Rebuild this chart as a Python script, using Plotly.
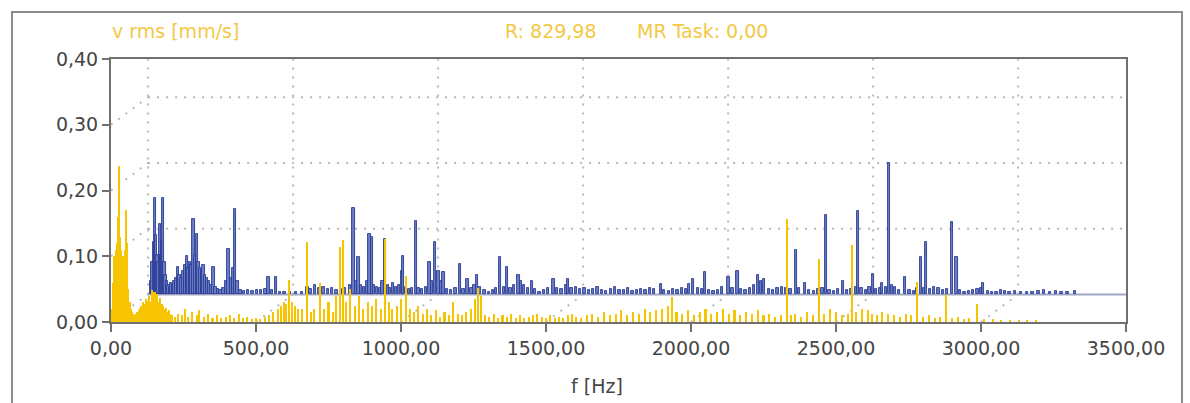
import plotly.graph_objects as go

# ---------------- data ----------------
# front spectrum (yellow): frequency [Hz], v rms [mm/s]
front_f = [4, 8, 12, 16, 20, 24, 28, 32, 36, 40, 44, 48, 52, 56, 60, 64, 68, 72, 76, 80, 85, 90,
           95, 100, 105, 110, 115, 120, 125, 130, 135, 140, 145, 150, 155, 160, 165, 170, 175, 180, 185, 190, 195, 200, 205, 210,
           220, 230, 245, 255, 265, 280, 295, 305, 320, 335, 350, 365, 380, 395, 410, 425, 440, 455, 470, 485, 500, 515, 530,
           545, 560, 575, 585, 595, 605, 615, 625, 635, 645,
           660, 675, 690, 700, 720, 735, 750, 765, 775, 790, 800, 812, 825, 840, 855, 870, 885, 900, 915, 930, 945, 958, 970,
           985, 1000, 1017, 1030, 1045, 1060, 1075, 1090, 1105, 1120, 1135, 1150, 1165, 1180, 1195, 1210, 1225, 1240, 1255,
           1266, 1275, 1290, 1305, 1320, 1335, 1350, 1365, 1380, 1395, 1410, 1425, 1440, 1455, 1470, 1485, 1500, 1515, 1530,
           1545, 1560, 1575, 1590, 1605, 1620, 1640, 1660, 1680, 1700, 1720, 1740, 1760, 1780, 1800, 1820, 1840, 1860, 1880,
           1900, 1920, 1936, 1950, 1970, 1990, 2010, 2030, 2050, 2070, 2090, 2110, 2130, 2150, 2170, 2190, 2210, 2230, 2250,
           2270, 2290, 2310, 2332, 2345, 2360, 2380, 2400, 2420, 2442, 2460, 2480, 2500, 2520, 2540, 2554, 2570, 2590, 2610,
           2625, 2640, 2660, 2680, 2700, 2720, 2740, 2760, 2780, 2800, 2820, 2840, 2860, 2879, 2900, 2920, 2940, 2960, 2987,
           3010, 3040, 3070, 3100, 3130, 3160, 3190]
front_v = [0.02, 0.06, 0.10, 0.11, 0.12, 0.16, 0.238, 0.13, 0.11, 0.10, 0.09, 0.11, 0.17, 0.12, 0.05, 0.03, 0.02, 0.015, 0.012, 0.01, 0.012, 0.015,
           0.018, 0.022, 0.025, 0.03, 0.028, 0.035, 0.032, 0.04, 0.03, 0.048, 0.038, 0.045, 0.035, 0.042, 0.03, 0.036, 0.028, 0.025, 0.02, 0.022, 0.015, 0.018, 0.012, 0.01,
           0.008, 0.012, 0.01, 0.02, 0.008, 0.015, 0.01, 0.018, 0.008, 0.012, 0.006, 0.01, 0.006, 0.008, 0.01, 0.006, 0.012, 0.006, 0.008, 0.005, 0.006, 0.004, 0.008,
           0.01, 0.015, 0.02, 0.025, 0.03, 0.028, 0.064, 0.03, 0.025, 0.02,
           0.02, 0.122, 0.015, 0.02, 0.059, 0.02, 0.03, 0.015, 0.04, 0.114, 0.124, 0.03, 0.05, 0.025, 0.04, 0.02, 0.03, 0.025, 0.035, 0.02, 0.127, 0.03, 0.02,
           0.025, 0.035, 0.07, 0.02, 0.015, 0.025, 0.012, 0.02, 0.01, 0.018, 0.008, 0.015, 0.01, 0.03, 0.012, 0.01, 0.015, 0.02, 0.035,
           0.051, 0.04, 0.01, 0.008, 0.012, 0.006, 0.01, 0.008, 0.012, 0.006, 0.01, 0.006, 0.008, 0.01, 0.012, 0.008, 0.006, 0.01, 0.006,
           0.008, 0.006, 0.01, 0.012, 0.008, 0.006, 0.01, 0.012, 0.008, 0.015, 0.01, 0.012, 0.018, 0.01, 0.015, 0.012, 0.02, 0.015, 0.018,
           0.02, 0.025, 0.038, 0.015, 0.012, 0.018, 0.01, 0.015, 0.02, 0.012, 0.015, 0.02, 0.012, 0.018, 0.01, 0.015, 0.012, 0.018, 0.01,
           0.012, 0.008, 0.01, 0.157, 0.01, 0.012, 0.008, 0.015, 0.01, 0.096, 0.012, 0.02, 0.015, 0.01, 0.012, 0.117, 0.015, 0.02, 0.018,
           0.012, 0.01, 0.015, 0.012, 0.01, 0.008, 0.012, 0.01, 0.061, 0.008, 0.01, 0.006, 0.008, 0.041, 0.006, 0.008, 0.005, 0.006, 0.028,
           0.004, 0.004, 0.003, 0.003, 0.003, 0.003, 0.003]

# back spectrum (blue): frequency [Hz], v rms [mm/s]
back_f = [10, 15, 20, 24, 28, 32, 36, 40, 44, 48, 52, 56, 60, 65, 70, 75, 80, 85, 90, 95, 102, 108, 115, 120, 127, 133,
          138, 144, 150, 156, 162, 168, 174, 180, 186, 191, 197, 203, 210, 218, 225, 232, 240, 250, 260, 270, 277, 285,
          292, 300, 308, 318, 330, 345, 360, 375, 390, 405, 415, 428, 440, 455, 470, 490, 510, 530, 550, 560, 575, 590,
          605, 620, 635, 650, 665, 680, 695, 708, 717, 725, 735, 745, 755, 763, 771, 780, 790, 800, 808, 817, 826, 835,
          845, 855, 865, 875, 880, 890, 900, 910, 923, 932, 945, 958, 970, 980, 990, 1001, 1010, 1018, 1030, 1045, 1060,
          1076, 1088, 1101, 1115, 1125, 1133, 1145, 1160, 1175, 1190, 1200, 1214, 1226, 1237, 1250, 1262, 1277, 1285,
          1295, 1310, 1323, 1335, 1350, 1365, 1380, 1398, 1410, 1425, 1440, 1449, 1460, 1475, 1490, 1505, 1520, 1535,
          1550, 1565, 1580, 1595, 1610, 1625, 1640, 1655, 1670, 1685, 1700, 1715, 1730, 1745, 1768, 1780, 1795, 1810,
          1825, 1840, 1855, 1866, 1880, 1895, 1910, 1921, 1935, 1950, 1965, 1980, 2001, 2015, 2032, 2045, 2060, 2075,
          2090, 2104, 2114, 2124, 2140, 2155, 2170, 2185, 2200, 2215, 2233, 2245, 2266, 2280, 2295, 2310, 2325, 2338,
          2350, 2365, 2380, 2395, 2410, 2425, 2440, 2449, 2460, 2475, 2488, 2499, 2510, 2525, 2530, 2545, 2555, 2565,
          2575, 2590, 2610, 2625, 2640, 2652, 2664, 2676, 2683, 2695, 2710, 2725, 2740, 2755, 2771, 2788, 2800, 2815,
          2830, 2845, 2860, 2872, 2880, 2895, 2910, 2925, 2940, 2955, 2970, 2990, 3010, 3030, 3050, 3070, 3090, 3110,
          3130, 3150, 3170, 3197]
back_v = [0.02, 0.05, 0.08, 0.147, 0.09, 0.06, 0.05, 0.107, 0.06, 0.08, 0.147, 0.05, 0.03, 0.02, 0.015, 0.012, 0.018, 0.015, 0.02, 0.025, 0.041, 0.03, 0.025, 0.035, 0.045, 0.059,
          0.04, 0.05, 0.045, 0.115, 0.06, 0.092, 0.05, 0.04, 0.035, 0.045, 0.03, 0.025, 0.02, 0.015, 0.041, 0.012, 0.008, 0.006, 0.01, 0.02, 0.069, 0.025,
          0.04, 0.13, 0.02, 0.006, 0.005, 0.006, 0.005, 0.007, 0.006, 0.008, 0.026, 0.006, 0.026, 0.004, 0.004, 0.003, 0.003, 0.004, 0.012, 0.008, 0.015, 0.01,
          0.012, 0.008, 0.01, 0.006, 0.008, 0.01, 0.015, 0.132, 0.02, 0.057, 0.015, 0.012, 0.02, 0.092, 0.087, 0.015, 0.012, 0.01, 0.02, 0.084, 0.015, 0.01,
          0.018, 0.012, 0.015, 0.036, 0.059, 0.012, 0.008, 0.01, 0.112, 0.01, 0.008, 0.012, 0.049, 0.02, 0.079, 0.036, 0.02, 0.034, 0.008, 0.006, 0.01,
          0.046, 0.008, 0.024, 0.01, 0.015, 0.029, 0.012, 0.006, 0.004, 0.006, 0.01, 0.057, 0.012, 0.041, 0.01, 0.015, 0.029, 0.02,
          0.015, 0.01, 0.021, 0.008, 0.004, 0.006, 0.01, 0.024, 0.01, 0.008, 0.015, 0.024, 0.01, 0.012, 0.008, 0.01, 0.006, 0.008,
          0.012, 0.006, 0.005, 0.008, 0.012, 0.006, 0.006, 0.01, 0.005, 0.006, 0.008, 0.006, 0.01, 0.008, 0.016, 0.006, 0.005, 0.008,
          0.006, 0.01, 0.008, 0.016, 0.024, 0.01, 0.008, 0.034, 0.006, 0.005, 0.006, 0.012, 0.026, 0.01, 0.036, 0.008, 0.006, 0.01,
          0.015, 0.029, 0.02, 0.024, 0.008, 0.006, 0.01, 0.012, 0.01, 0.008, 0.067, 0.01, 0.017, 0.006, 0.005, 0.008, 0.01, 0.12,
          0.006, 0.005, 0.008, 0.021, 0.006, 0.008, 0.012, 0.127, 0.01, 0.006, 0.012, 0.031, 0.008, 0.01, 0.018, 0.012, 0.2, 0.015,
          0.012, 0.006, 0.027, 0.006, 0.005, 0.01, 0.057, 0.01, 0.079, 0.008, 0.012, 0.01, 0.006, 0.008, 0.11, 0.057, 0.006, 0.004,
          0.005, 0.006, 0.008, 0.01, 0.017, 0.005, 0.003, 0.004, 0.006, 0.005, 0.004, 0.005, 0.003, 0.004, 0.003, 0.005, 0.006, 0.004,
          0.005, 0.003, 0.004, 0.005]

x_ticks = [0, 500, 1000, 1500, 2000, 2500, 3000, 3500]
y_ticks = [0.0, 0.1, 0.2, 0.3, 0.4]

title_left = "v rms [mm/s]"
title_r = "R: 829,98"
title_mr = "MR Task: 0,00"
x_title = "f [Hz]"

# ---------------- layout constants ----------------
W, H = 1190, 403
PL, PR, PT, PB = 111, 1126, 59, 322       # plot area in pixels
DX, DY = 128, 0.042                        # waterfall depth offset (Hz, mm/s)
X_MAX, Y_MAX = 3500, 0.40

def px_x(p):
    return (p - PL) / (PR - PL)

def px_y(p):
    return (PB - p) / (PB - PT)

YELLOW = "#F6C400"
BLUE_FILL = "#6A7DC4"
BLUE_LINE = "#2A3C94"
GRID = "#B8B8B8"
AXIS = "#707070"
TEXT = "#454545"
TITLE_Y = "#F3C844"
FONT = "DejaVu Sans"

fig = go.Figure()

# back spectrum (blue)
fig.add_trace(go.Bar(
    x=[f + DX for f in back_f], y=back_v, base=DY, width=8,
    marker=dict(color=BLUE_FILL, line=dict(color=BLUE_LINE, width=0.9)),
    hoverinfo="skip", showlegend=False,
))
# front spectrum (yellow)
fig.add_trace(go.Bar(
    x=front_f, y=front_v, base=0, width=7,
    marker=dict(color=YELLOW, line=dict(width=0)),
    hoverinfo="skip", showlegend=False,
))

shapes = []
dot = "2px,7px"
# back grid: vertical lines + bottom diagonals
for t in x_ticks:
    if t + DX < X_MAX:
        shapes.append(dict(type="line", xref="x", yref="y", x0=t + DX, x1=t + DX, y0=DY, y1=Y_MAX,
                           line=dict(color=GRID, width=2, dash=dot), layer="below"))
        shapes.append(dict(type="line", xref="x", yref="y", x0=t, x1=t + DX, y0=0, y1=DY,
                           line=dict(color=GRID, width=2, dash=dot), layer="below"))
# back grid: horizontal lines + left diagonals
for lv in y_ticks[1:]:
    if lv + DY < Y_MAX:
        shapes.append(dict(type="line", xref="x", yref="y", x0=DX, x1=X_MAX, y0=lv + DY, y1=lv + DY,
                           line=dict(color=GRID, width=2, dash=dot), layer="below"))
        shapes.append(dict(type="line", xref="x", yref="y", x0=0, x1=DX, y0=lv, y1=lv + DY,
                           line=dict(color=GRID, width=2, dash=dot), layer="below"))
# back baseline
shapes.append(dict(type="line", xref="x", yref="y", x0=DX, x1=X_MAX, y0=DY, y1=DY,
                   line=dict(color="#A3A9C2", width=2), layer="below"))
# outer frame
shapes.append(dict(type="rect", xref="paper", yref="paper",
                   x0=px_x(12), x1=px_x(1182), y0=px_y(420), y1=px_y(12),
                   line=dict(color="#8C8C8C", width=2), fillcolor="rgba(0,0,0,0)", layer="below"))

annotations = [
    dict(text=title_left, x=px_x(110), y=px_y(31), xref="paper", yref="paper",
         xanchor="left", yanchor="middle", showarrow=False,
         font=dict(family=FONT, size=19, color=TITLE_Y)),
    dict(text=title_r, x=px_x(503), y=px_y(31), xref="paper", yref="paper",
         xanchor="left", yanchor="middle", showarrow=False,
         font=dict(family=FONT, size=19, color=TITLE_Y)),
    dict(text=title_mr, x=px_x(635), y=px_y(31), xref="paper", yref="paper",
         xanchor="left", yanchor="middle", showarrow=False,
         font=dict(family=FONT, size=19, color=TITLE_Y)),
    dict(text=x_title, x=px_x(597), y=px_y(386), xref="paper", yref="paper",
         xanchor="center", yanchor="middle", showarrow=False,
         font=dict(family=FONT, size=19, color=TEXT)),
]

fig.update_layout(
    width=W, height=H,
    margin=dict(l=PL, r=W - PR, t=PT, b=H - PB, pad=0),
    paper_bgcolor="white", plot_bgcolor="white",
    barmode="overlay", bargap=0,
    separators=",.",
    shapes=shapes, annotations=annotations,
    showlegend=False,
)
fig.update_xaxes(range=[0, X_MAX], tickvals=x_ticks, tickformat=".2f",
                 showgrid=False, zeroline=False, showline=True, linecolor=AXIS, linewidth=2, mirror=True,
                 ticks="outside", ticklen=8, tickwidth=2, tickcolor=AXIS,
                 tickfont=dict(family=FONT, size=19, color=TEXT))
fig.update_yaxes(range=[0, Y_MAX], tickvals=y_ticks, tickformat=".2f",
                 showgrid=False, zeroline=False, showline=True, linecolor=AXIS, linewidth=2, mirror=True,
                 ticks="outside", ticklen=7, tickwidth=2, tickcolor=AXIS,
                 tickfont=dict(family=FONT, size=19, color=TEXT))

fig.write_html("out.html")
